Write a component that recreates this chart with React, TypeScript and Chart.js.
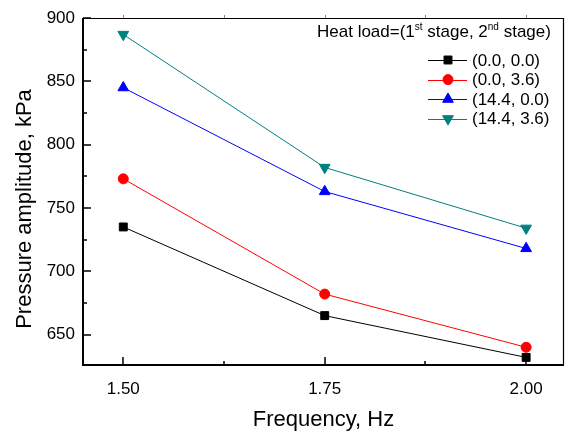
import React, { useEffect, useRef } from 'react';
import { Chart, registerables } from 'chart.js';
import { drawPoint } from 'chart.js/helpers';

Chart.register(...registerables);

const frequencies = [1.5, 1.75, 2.0];
const seriesLabels = ['(0.0, 0.0)', '(0.0, 3.6)', '(14.4, 0.0)', '(14.4, 3.6)'];
const load00 = [735, 665, 632];
const load036 = [773, 682, 640];
const load1440 = [845, 763, 718];
const load1436 = [887, 782, 734];
const xMajorTicks = [1.5, 1.75, 2.0];
const xMinorTicks = [1.625, 1.875];
const yMajorTicks = [650, 700, 750, 800, 850, 900];
const yMinorTicks = [675, 725, 775, 825, 875];
const yTitle = 'Pressure amplitude, kPa';

const FONT = "'Liberation Sans', Arial, sans-serif";

const framePlugin = {
  id: 'frame',
  afterDatasetsDraw(chart: any) {
    const { ctx, chartArea } = chart;
    const { left, right, top, bottom } = chartArea;
    const xs = chart.scales.x;
    const ys = chart.scales.y;
    ctx.save();
    ctx.strokeStyle = '#000';
    ctx.lineWidth = 1.2;
    ctx.beginPath();
    ctx.moveTo(left, top + 0.5);
    ctx.lineTo(right, top + 0.5);
    ctx.moveTo(right - 0.5, top);
    ctx.lineTo(right - 0.5, bottom);
    ctx.stroke();
    ctx.lineWidth = 2;
    ctx.beginPath();
    ctx.moveTo(left, top);
    ctx.lineTo(left, bottom);
    ctx.lineTo(right, bottom);
    ctx.stroke();
    ctx.lineWidth = 1.5;
    ctx.beginPath();
    for (const v of yMajorTicks) {
      const p = Math.round(ys.getPixelForValue(v));
      ctx.moveTo(left, p);
      ctx.lineTo(left + 8, p);
    }
    for (const v of yMinorTicks) {
      const p = Math.round(ys.getPixelForValue(v));
      ctx.moveTo(left, p);
      ctx.lineTo(left + 4, p);
    }
    for (const v of xMajorTicks) {
      const p = Math.round(xs.getPixelForValue(v));
      ctx.moveTo(p, bottom);
      ctx.lineTo(p, bottom - 8);
    }
    for (const v of xMinorTicks) {
      const p = Math.round(xs.getPixelForValue(v));
      ctx.moveTo(p, bottom);
      ctx.lineTo(p, bottom - 4);
    }
    ctx.stroke();
    ctx.strokeStyle = '#888';
    ctx.lineWidth = 1;
    ctx.beginPath();
    for (const v of [...xMajorTicks, ...xMinorTicks]) {
      const p = Math.round(xs.getPixelForValue(v)) + 0.5;
      ctx.moveTo(p, top);
      ctx.lineTo(p, top - 3);
    }
    ctx.stroke();
    ctx.restore();
  },
  afterDraw(chart: any) {
    const { ctx } = chart;
    ctx.save();
    ctx.save();
    ctx.translate(25, 209);
    ctx.rotate(-Math.PI / 2);
    ctx.font = `22px ${FONT}`;
    ctx.fillStyle = '#000';
    ctx.textAlign = 'center';
    ctx.textBaseline = 'middle';
    ctx.fillText(yTitle, 0, 0);
    ctx.restore();

    ctx.fillStyle = '#000';
    ctx.textBaseline = 'alphabetic';
    ctx.textAlign = 'left';
    const parts: [string, boolean][] = [
      ['Heat load=(1', false],
      ['st', true],
      [' stage, 2', false],
      ['nd', true],
      [' stage)', false],
    ];
    let x = 317;
    const baseY = 37;
    for (const [t, sup] of parts) {
      ctx.font = sup ? `10px ${FONT}` : `17px ${FONT}`;
      ctx.fillText(t, x, sup ? baseY - 7 : baseY);
      x += ctx.measureText(t).width;
    }
    ctx.font = `17px ${FONT}`;
    ctx.textBaseline = 'middle';
    chart.data.datasets.forEach((ds: any, i: number) => {
      const y = 60 + i * 19.6;
      ctx.strokeStyle = ds.borderColor;
      ctx.lineWidth = 1;
      ctx.beginPath();
      ctx.moveTo(428, Math.round(y) + 0.5);
      ctx.lineTo(467, Math.round(y) + 0.5);
      ctx.stroke();
      ctx.fillStyle = ds.pointBackgroundColor;
      ctx.strokeStyle = ds.pointBorderColor;
      drawPoint(ctx, {
        pointStyle: ds.pointStyle,
        rotation: ds.pointRotation || 0,
        radius: ds.pointRadius,
        borderWidth: 1,
      }, 448, y);
      ctx.fillStyle = '#000';
      ctx.fillText(ds.label, 472, y + 1);
    });
    ctx.restore();
  },
};

function makeDataset(label: string, values: number[], color: string, style: string, radius: number, rotation = 0) {
  return {
    label,
    data: values.map((v, i) => ({ x: frequencies[i], y: v })),
    borderColor: color,
    backgroundColor: color,
    pointBackgroundColor: color,
    pointBorderColor: color,
    borderWidth: 1,
    pointStyle: style,
    pointRadius: radius,
    pointRotation: rotation,
    pointBorderWidth: 1,
    tension: 0,
    clip: false,
  };
}

export default function App() {
  const ref = useRef<HTMLCanvasElement>(null);
  useEffect(() => {
    document.body.style.margin = '0';
    if (!ref.current) return;
    const chart = new Chart(ref.current, {
      type: 'line',
      data: {
        datasets: [
          makeDataset(seriesLabels[0], load00, '#000000', 'rect', 5.6),
          makeDataset(seriesLabels[1], load036, '#ff0000', 'circle', 5),
          makeDataset(seriesLabels[2], load1440, '#0000ff', 'triangle', 6.2),
          makeDataset(seriesLabels[3], load1436, '#008080', 'triangle', 6.2, 180),
        ],
      },
      options: {
        animation: false,
        responsive: false,
        layout: { autoPadding: false, padding: { top: 18, right: 4, left: 0, bottom: 0 } },
        plugins: {
          legend: { display: false },
          tooltip: { enabled: false },
        },
        scales: {
          x: {
            type: 'linear',
            min: 1.45,
            max: 2.047,
            grid: { display: false, drawTicks: false },
            border: { display: false },
            afterBuildTicks: (s: any) => { s.ticks = xMajorTicks.map((v) => ({ value: v })); },
            afterFit: (s: any) => { s.height = 72; s.paddingLeft = 0; s.paddingRight = 0; },
            ticks: {
              color: '#000',
              padding: 14,
              font: { family: FONT, size: 17 },
              callback: (v: any) => Number(v).toFixed(2),
              maxRotation: 0,
            },
            title: {
              display: true,
              text: 'Frequency, Hz',
              color: '#000',
              font: { family: FONT, size: 22 },
              padding: { bottom: 4, top: 0 },
            },
          },
          y: {
            type: 'linear',
            min: 626,
            max: 900,
            grid: { display: false, drawTicks: false },
            border: { display: false },
            afterBuildTicks: (s: any) => { s.ticks = yMajorTicks.map((v) => ({ value: v })); },
            afterFit: (s: any) => { s.width = 83; s.paddingTop = 0; s.paddingBottom = 0; },
            ticks: {
              color: '#000',
              padding: 8,
              font: { family: FONT, size: 17 },
            },
            title: { display: false },
          },
        },
      },
      plugins: [framePlugin],
    });
    return () => chart.destroy();
  }, []);
  return (
    <div style={{ width: 568, height: 437 }}>
      <canvas ref={ref} width={568} height={437} />
    </div>
  );
}
